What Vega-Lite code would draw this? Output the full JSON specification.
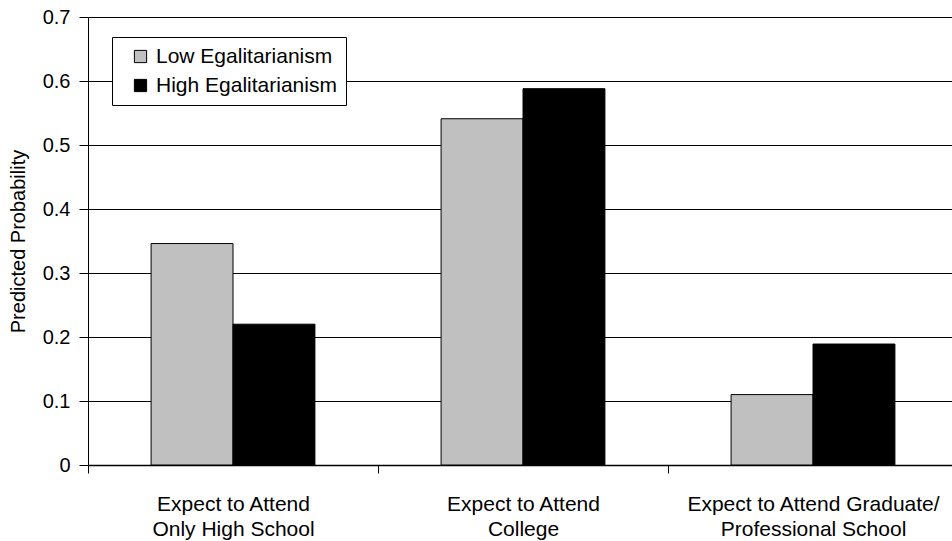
{
  "$schema": "https://vega.github.io/schema/vega-lite/v6.json",
  "autosize": "none",
  "padding": {"left": 88, "top": 17, "right": 0, "bottom": 76},
  "width": 870,
  "height": 448,
  "background": "white",
  "config": {
    "view": {"stroke": null},
    "font": "Liberation Sans"
  },
  "data": {
    "values": [
      {"outcome": "Expect to Attend|Only High School", "group": "Low Egalitarianism", "prob": 0.346},
      {"outcome": "Expect to Attend|Only High School", "group": "High Egalitarianism", "prob": 0.220},
      {"outcome": "Expect to Attend|College", "group": "Low Egalitarianism", "prob": 0.541},
      {"outcome": "Expect to Attend|College", "group": "High Egalitarianism", "prob": 0.588},
      {"outcome": "Expect to Attend Graduate/|Professional School", "group": "Low Egalitarianism", "prob": 0.110},
      {"outcome": "Expect to Attend Graduate/|Professional School", "group": "High Egalitarianism", "prob": 0.189}
    ]
  },
  "mark": {"type": "bar", "stroke": "#000", "strokeWidth": 1},
  "encoding": {
    "x": {
      "field": "outcome",
      "type": "nominal",
      "sort": null,
      "scale": {"paddingInner": 0, "paddingOuter": 0},
      "axis": {
        "title": null,
        "labelAngle": 0,
        "labelExpr": "split(datum.label, '|')",
        "labelFont": "Liberation Sans",
        "labelFontSize": 21,
        "labelColor": "#000",
        "labelLineHeight": 25,
        "labelPadding": 20,
        "labelLimit": 400,
        "tickBand": "extent",
        "tickSize": 8,
        "tickColor": "#000",
        "domainColor": "#000",
        "domainWidth": 1.5,
        "grid": false
      }
    },
    "xOffset": {
      "field": "group",
      "type": "nominal",
      "sort": ["Low Egalitarianism", "High Egalitarianism"],
      "scale": {"paddingInner": 0, "paddingOuter": 0.77}
    },
    "y": {
      "field": "prob",
      "type": "quantitative",
      "scale": {"domain": [0, 0.7], "nice": false},
      "axis": {
        "title": "Predicted Probability",
        "titleFont": "Liberation Sans",
        "titleFontSize": 20,
        "titleFontWeight": "normal",
        "titleColor": "#000",
        "titlePadding": 14,
        "values": [0, 0.1, 0.2, 0.3, 0.4, 0.5, 0.6, 0.7],
        "format": ".1~f",
        "labelFontSize": 20,
        "labelColor": "#000",
        "labelPadding": 9,
        "tickSize": 9,
        "tickColor": "#000",
        "domainColor": "#000",
        "grid": true,
        "gridColor": "#000",
        "gridWidth": 1
      }
    },
    "color": {
      "field": "group",
      "type": "nominal",
      "sort": ["Low Egalitarianism", "High Egalitarianism"],
      "scale": {"domain": ["Low Egalitarianism", "High Egalitarianism"], "range": ["#C0C0C0", "#000000"]},
      "legend": {
        "title": null,
        "orient": "none",
        "legendX": 24,
        "legendY": 20,
        "direction": "vertical",
        "fillColor": "white",
        "strokeColor": "#000",
        "padding": 9,
        "symbolOffset": 9,
        "symbolType": "square",
        "symbolSize": 150,
        "symbolStrokeColor": "#000",
        "symbolStrokeWidth": 1,
        "labelFontSize": 21,
        "labelColor": "#000",
        "labelLimit": 0,
        "rowPadding": 7,
        "labelOffset": 5
      }
    }
  }
}
